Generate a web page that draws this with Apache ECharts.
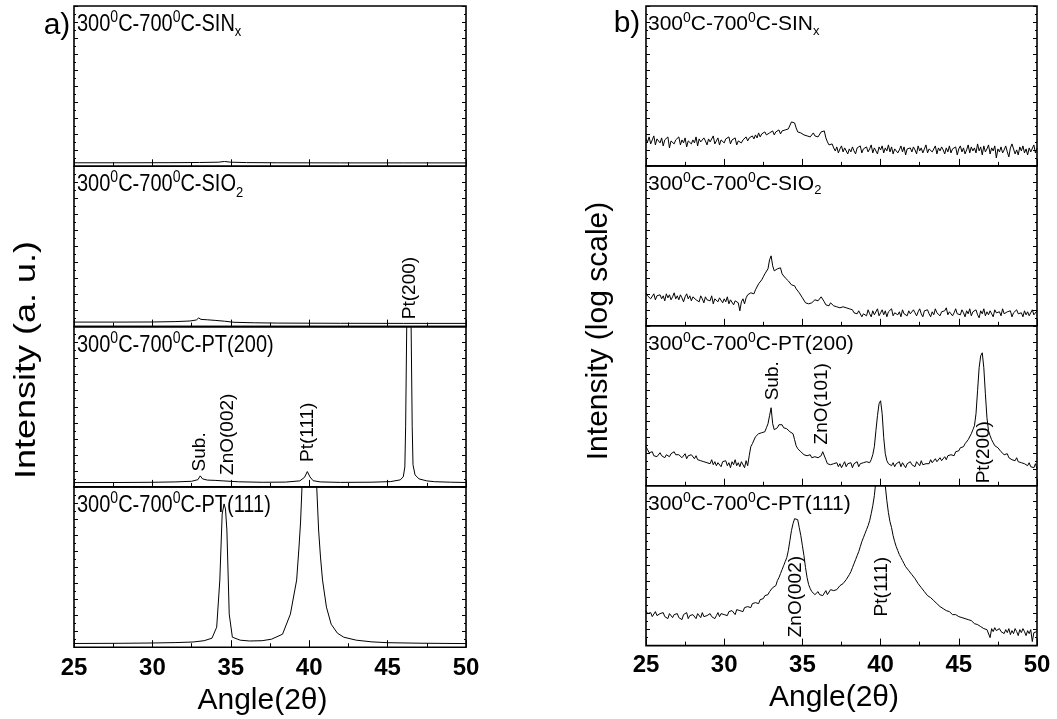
<!DOCTYPE html>
<html><head><meta charset="utf-8">
<script src="https://cdn.jsdelivr.net/npm/echarts@6/dist/echarts.min.js"></script>
<style>html,body{margin:0;padding:0;background:#fff}#c{width:1057px;height:719px}</style>
</head><body><div id="c"></div>
<script>
// ---------- data ----------
const xTickLabels = [25, 30, 35, 40, 45, 50];
const sampleNames = ['SIN', 'SIO', 'PT(200)', 'PT(111)'];
const sampleSubs  = ['x', '2', '', ''];

// Panel a: linear intensity (arb. units), [angle, intensity]
const linSiNx = [[25,3.5],[28,3.5],[31,3.6],[33,3.8],[34.2,4.1],[34.6,4.8],[35,4.1],[36,3.7],[38,3.5],[42,3.4],[46,3.4],[50,3.4]];
const linSiO2 = [[25,4.5],[28,4.5],[30,4.6],[31.5,5.0],[32.4,5.6],[32.8,6.6],[32.95,8.6],[33.1,7.2],[33.5,6.8],[34.0,6.2],[34.6,5.4],[35.2,4.3],[36.5,3.8],[38,3.5],[42,3.3],[46,3.2],[50,3.2]];
const linPt200 = [[25,4.3],[28,4.4],[30,4.6],[31.5,5.0],[32.5,5.6],[32.9,7.2],[33.05,11],[33.2,8.0],[33.5,6.8],[34.0,6.5],[34.5,6.0],[35.5,5.1],[37,4.6],[38.5,4.8],[39.4,6.0],[39.7,9.5],[39.88,15.3],[40.05,10],[40.25,6.2],[40.7,5.0],[42,4.5],[44,4.7],[45.2,5.3],[45.8,7],[46.0,10],[46.1,20],[46.15,60],[46.22,160],[46.36,230],[46.5,160],[46.57,60],[46.62,22],[46.75,12],[47.0,8],[47.5,6],[48,5.2],[49,4.7],[50,4.4]];
const linPt111 = [[25,3.7],[28,3.9],[30,4.2],[31.5,4.6],[32.6,5.2],[33.3,6.5],[33.8,9],[34.1,20],[34.3,67],[34.45,133],[34.57,143],[34.66,138],[34.75,117],[34.9,33],[35.1,10],[35.6,7],[36.2,6.2],[37,6.5],[37.6,8],[38.3,13],[38.8,33],[39.2,67],[39.35,100],[39.45,125],[39.54,160],[40,400],[40.48,160],[40.6,117],[40.72,90],[40.85,67],[41.1,40],[41.4,23],[41.8,14],[42.2,10],[43,7],[44,5.3],[45,4.5],[47,4],[50,3.6]];

// Panel b: log intensity (arb. units), sampled every 0.1 deg from 25.0
const logStart = 25.0, logStep = 0.1;
const logSiNx = [
27,24,29,22,26,30,21,27,25,23, 28,20,26,24,29,18,25,27,22,26, 24,29,21,26,23,28,19,25,27,22,
26,23,29,20,27,24,22,28,25,21, 27,24,26,30,22,25,28,21,26,24, 23,27,25,29,22,26,24,28,21,25,
27,23,26,24,29,25,28,26,30,27, 31,28,33,29,32,30,34,31,29,33, 32,35,31,34,33,36,32,35,34,36,
35,37,39,44,46,43,38,34,36,33, 34,31,33,30,32,29,31,33,30,32, 29,31,34,33,35,28,24,21,19,22,
18,15,19,13,17,20,14,18,16,12, 17,14,19,15,12,18,16,20,13,17, 15,19,14,17,21,13,18,16,12,19,
16,20,13,18,15,21,14,19,12,17, 18,13,16,20,14,19,11,17,15,18, 14,19,16,12,20,15,18,13,17,21,
13,17,19,14,16,20,12,18,15,19, 16,12,18,14,20,13,17,15,19,11, 17,20,14,18,12,16,21,13,19,15,
18,13,22,15,19,11,20,14,17,21, 12,18,15,20,8,17,14,19,13,16, 20,14,9,18,22,21,12,16,11,19,
15,20,13,17,11,18,14,16,21,13, 18];
const logSiO2 = [
33,30,31,27,29,32,26,30,28,31, 27,30,25,32,28,31,26,29,33,27, 30,26,31,28,24,29,32,27,30,25,
29,31,26,28,24,30,27,23,29,26, 28,25,30,22,27,29,24,28,26,23, 27,24,29,22,26,28,21,25,27,23,
15,24,27,22,28,31,29,33,35,32, 36,38,42,40,46,49,52,54,57,66, 70,60,55,54,57,59,58,52,50,48,
46,45,44,41,42,40,37,35,33,31, 28,26,23,21,22,24,23,25,26,24, 25,27,29,28,24,21,22,20,23,21,
20,22,19,21,18,20,19,17,18,16, 17,15,16,13,14,12,15,13,9,12, 14,10,16,12,9,15,11,13,17,10,
13,16,11,15,9,14,12,17,10,13, 15,11,14,9,16,12,13,10,15,12, 11,16,13,10,14,17,12,9,15,13,
16,12,9,14,11,17,13,15,10,14, 12,15,18,11,14,16,10,13,17,12, 14,11,16,13,9,15,12,17,10,14,
13,16,11,8,15,12,17,10,14,11, 15,12,9,16,13,11,14,10,17,12, 10,14,12,15,9,13,11,16,12,10,
13,9,15,11,14,10,12,16,11,13, 15];
const logPt200 = [
39,36,33,31,34,30,32,29,31,33, 30,32,28,31,33,29,32,30,34,31, 29,31,33,28,30,32,27,30,28,31,
29,27,30,26,28,25,27,24,26,23, 25,22,26,21,24,20,23,25,19,24, 22,25,20,23,18,24,21,26,20,23,
19,24,22,18,25,20,30,39,42,44, 49,50,52,51,53,55,54,58,62,70, 78,62,56,55,58,61,63,61,58,57,
57,55,54,55,52,46,40,37,35,34, 33,31,32,30,29,31,28,30,29,27, 28,26,30,34,33,26,22,24,21,23,
22,20,23,19,22,18,21,24,19,22, 20,23,18,22,21,24,19,22,20,23, 21,24,22,23,26,31,39,55,70,82,
85,72,48,32,25,22,24,20,23,19, 22,20,24,19,23,21,18,22,20,24, 21,23,19,24,22,20,25,21,23,22,
24,22,26,23,25,27,24,26,28,25, 27,29,26,30,28,31,33,30,34,36, 35,38,40,39,42,44,46,48,52,56,
60,72,95,118,130,133,118,92,68,55, 50,46,43,40,41,38,36,34,35,31, 30,32,28,29,26,27,25,28,24,26,
23,25,22,24,20,23,19,21,18,22, 17];
const logPt111 = [
35,32,30,33,29,31,34,30,28,32, 30,33,29,31,27,32,30,28,31,29, 32,28,30,26,31,29,33,27,30,28,
31,29,27,32,30,28,33,29,31,30, 28,32,29,31,27,30,33,29,32,30, 31,33,30,34,32,35,33,31,36,34,
35,37,34,38,36,39,41,38,42,40, 43,45,42,46,48,47,50,52,51,54, 56,58,60,60,65,68,72,76,80,84,
88,95,105,115,122,127,128,126,118,110, 100,90,78,68,61,57,54,52,51,53, 54,51,53,50,52,55,51,53,56,54,
55,57,56,58,60,59,62,64,66,68, 71,74,78,82,86,90,94,99,104,108, 112,116,120,125,132,140,150,165,185,205,
230,205,180,160,145,133,124,118,110,104, 99,95,91,88,85,82,79,77,75,73, 71,69,67,65,62,60,58,56,54,52,
50,49,48,46,45,43,42,40,39,38, 37,35,35,33,34,32,31,30,31,29, 29,27,28,26,27,25,26,24,25,23,
22,24,21,20,19,21,17,19,16,18, 8,17,14,18,15,13,17,14,16,12, 16,13,17,11,15,12,17,14,10,16,
13,17,14,10,15,12,16,4,13,11, 14];

// Peak annotations: [panel, row, angle, height(center), text]
const peakLabels = [
  [0, 1, 46.43, 38.5, 'Pt(200)'],
  [0, 2, 33.04, 35, 'Sub.'],
  [0, 2, 34.82, 52.5, 'ZnO(002)'],
  [0, 2, 39.92, 54.5, 'Pt(111)'],
  [1, 2, 33.1, 105, 'Sub.'],
  [1, 2, 36.23, 82, 'ZnO(101)'],
  [1, 2, 46.6, 33.5, 'Pt(200)'],
  [1, 3, 34.59, 49, 'ZnO(002)'],
  [1, 3, 40.07, 59, 'Pt(111)']
];

// ---------- chart ----------
const FONT = '"Liberation Sans", Arial, sans-serif';
const panels = [
  { left: 74, width: 392, rowH: 160.3, series: [linSiNx, linSiO2, linPt200, linPt111] },
  { left: 646, width: 391, rowH: 159.9, series: [logSiNx, logSiO2, logPt200, logPt111].map(v => v.map((y, k) => [+(logStart + k * logStep).toFixed(2), y])) }
];
const TOP = 6;
const grid = [], xAxis = [], yAxis = [], series = [];
panels.forEach((p, pi) => {
  for (let r = 0; r < 4; r++) {
    const i = pi * 4 + r;
    grid.push({ left: p.left, width: p.width, top: TOP + r * p.rowH, height: p.rowH,
      show: true, borderColor: '#000', borderWidth: 1.6, backgroundColor: 'transparent', containLabel: false });
    const last = r === 3;
    xAxis.push({
      type: 'value', gridIndex: i, min: 25, max: 50, interval: 5,
      axisLine: { show: false },
      axisTick: { show: true, inside: true, length: 7, lineStyle: { color: '#000', width: 1 } },
      minorTick: { show: true, splitNumber: 2, length: 4, lineStyle: { color: '#000', width: 1 } },
      splitLine: { show: false }, minorSplitLine: { show: false },
      axisLabel: { show: last, color: '#000', fontWeight: 'bold', fontSize: 24, fontFamily: FONT, margin: pi === 0 ? 9 : 8,
        formatter: v => xTickLabels.includes(v) ? String(v) : '' },
      name: last ? 'Angle(2θ)' : '', nameLocation: 'middle', nameGap: pi === 0 ? 39 : 37,
      nameTextStyle: { color: '#000', fontSize: 30, fontFamily: FONT, padding: [0, 15, 0, 0] }
    });
    ['left', 'right'].forEach(pos => {
      yAxis.push({
        type: 'value', gridIndex: i, position: pos, min: 0, max: 160, interval: 16,
        axisLine: { show: false },
        axisTick: { show: true, inside: true, length: 4, lineStyle: { color: '#000', width: 1 } },
        minorTick: { show: true, splitNumber: 2, length: 2, lineStyle: { color: '#000', width: 1 } },
        splitLine: { show: false }, axisLabel: { show: false }
      });
    });
    series.push({ type: 'line', xAxisIndex: i, yAxisIndex: 2 * i, data: p.series[r],
      symbol: 'none', showSymbol: false, clip: true, animation: false,
      lineStyle: { color: '#000', width: 1 } });
  }
});

const chart = echarts.init(document.getElementById('c'), null, { renderer: 'canvas' });
chart.setOption({ backgroundColor: '#fff', animation: false, grid, xAxis, yAxis, series });

const graphic = [];
// sample titles
panels.forEach((p, pi) => {
  for (let r = 0; r < 4; r++) {
    const i = pi * 4 + r;
    const o = chart.convertToPixel({ xAxisIndex: i, yAxisIndex: 2 * i }, [25, 160]);
    const sub = sampleSubs[r] ? '{b|' + sampleSubs[r] + '}' : '';
    const fs = pi === 0 ? 20 : 21;
    graphic.push({ type: 'text', x: o[0] + (pi === 0 ? 3 : 2), y: o[1] + 18.5,
      scaleY: pi === 0 ? 1.18 : 1, z: 100,
      style: { text: '{n|300}{s|0}{n|C-700}{s|0}{n|C-' + sampleNames[r] + '}' + sub,
        align: 'left', verticalAlign: 'middle', fill: '#000',
        rich: {
          n: { fontSize: fs, fontFamily: FONT, lineHeight: 26, fill: '#000' },
          s: { fontSize: 14, fontFamily: FONT, lineHeight: 12, verticalAlign: 'top', fill: '#000' },
          b: { fontSize: 13, fontFamily: FONT, lineHeight: 12, verticalAlign: 'bottom', fill: '#000' }
        } } });
  }
});
// peak labels
peakLabels.forEach(([pi, r, a, h, t]) => {
  const i = pi * 4 + r;
  const q = chart.convertToPixel({ xAxisIndex: i, yAxisIndex: 2 * i }, [a, h]);
  graphic.push({ type: 'text', x: q[0], y: q[1], rotation: Math.PI / 2, z: 100,
    style: { text: t, fontSize: 19, fontFamily: FONT, fill: '#000', align: 'center', verticalAlign: 'middle' } });
});
// y-axis titles and panel letters
graphic.push({ type: 'text', x: 27, y: 360, rotation: Math.PI / 2, scaleX: 1.2,
  style: { text: 'Intensity (a. u.)', fontSize: 30, fontFamily: FONT, fill: '#000', align: 'center', verticalAlign: 'middle' } });
graphic.push({ type: 'text', x: 599, y: 331, rotation: Math.PI / 2,
  style: { text: 'Intensity (log scale)', fontSize: 30, fontFamily: FONT, fill: '#000', align: 'center', verticalAlign: 'middle' } });
graphic.push({ type: 'text', x: 57, y: 26,
  style: { text: 'a)', fontSize: 30, fontFamily: FONT, fill: '#000', align: 'center', verticalAlign: 'middle' } });
graphic.push({ type: 'text', x: 627, y: 24,
  style: { text: 'b)', fontSize: 30, fontFamily: FONT, fill: '#000', align: 'center', verticalAlign: 'middle' } });
chart.setOption({ graphic });
</script></body></html>
